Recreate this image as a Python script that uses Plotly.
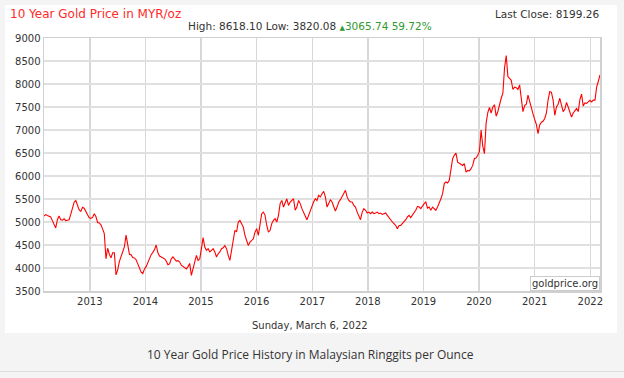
import pandas as pd
import plotly.graph_objects as go

# ---- data ----
start_date = "2012-03-06"
sample_every = "11D"

prices_2012_2014 = [
    5130, 5160, 5140, 5120, 5110, 5030, 4930, 4870, 5050, 5130,
    5050, 5040, 5070, 5030, 5040, 5050, 5170, 5320, 5430, 5465,
    5340, 5260, 5230, 5320, 5300, 5210, 5160, 5090, 5080, 5100,
    5180, 5120, 4990, 4980, 4940, 4850, 4750, 4200, 4430, 4300,
    4220, 4330, 4330, 3850, 3960, 4140, 4250, 4320, 4460, 4715,
    4530, 4300, 4290, 4230, 4220, 4180, 4090, 4000, 3910, 3880,
    3980, 4030, 4130, 4220, 4290, 4340, 4400, 4500, 4330, 4260,
    4240, 4230, 4200, 4150, 4070, 4090, 4200, 4240, 4200, 4150,
    4160, 4130, 4060, 4030, 4000, 3980, 4030, 4100,
]
prices_2014_2017 = [
    3840, 3985, 4165, 4275, 4165, 4200, 4420, 4660, 4455, 4385,
    4420, 4350, 4385, 4420, 4350, 4240, 4310, 4350, 4420, 4440,
    4490, 4420, 4275, 4165, 4385, 4600, 4820, 4785, 5000, 5035,
    4965, 4890, 4710, 4600, 4490, 4565, 4600, 4635, 4780, 4855,
    4710, 4965, 5180, 5215, 5145, 4930, 4780, 4820, 4965, 5035,
    5070, 5000, 5145, 5400, 5470, 5325, 5435, 5505, 5360, 5435,
    5470, 5505, 5255, 5325, 5470, 5400, 5290, 5215, 5145, 5050,
    5145, 5255, 5325, 5435, 5505, 5470, 5580, 5545, 5615, 5665,
    5545, 5325, 5400,
]
prices_2017_2019 = [
    5485, 5435, 5325, 5240, 5325, 5435, 5485, 5545, 5615, 5690,
    5545, 5470, 5435, 5435, 5360, 5325, 5215, 5145, 5050, 5215,
    5290, 5255, 5195, 5215, 5180, 5215, 5180, 5195, 5215, 5180,
    5195, 5165, 5180, 5195, 5145, 5095, 5035, 5000, 4965, 4925,
    4855, 4925, 4925, 4965, 5000, 5050, 5110, 5145, 5095, 5145,
    5195, 5255, 5340, 5325, 5290, 5360, 5400, 5435, 5300, 5325,
    5255, 5325, 5290, 5255, 5325, 5400, 5505, 5615, 5835, 5870,
    5850, 5905, 6195, 6375, 6450, 6500, 6300, 6280, 6250, 6230,
    6270, 6085, 6120,
]
prices_2019_2022 = [
    6110, 6160, 6230, 6380, 6390, 6450, 6530, 7000, 6650, 6485,
    7150, 7380, 7490, 7370, 7500, 7550, 7300, 7400, 7570, 7690,
    7800, 8350, 8618, 8160, 8120, 8080, 7880, 7930, 7920, 7880,
    7980, 7700, 7400, 7530, 7560, 7760, 7600, 7480, 7350, 7230,
    7120, 6920, 7110, 7170, 7190, 7250, 7370, 7650, 7835, 7820,
    7650, 7320, 7500, 7560, 7690, 7540, 7400, 7450, 7600, 7500,
    7380, 7280, 7370, 7430, 7465, 7400, 7660, 7780, 7520, 7590,
    7580, 7610, 7645, 7610, 7650, 7650, 7930, 8060, 8199,
]

prices = prices_2012_2014 + prices_2014_2017 + prices_2017_2019 + prices_2019_2022
dates = pd.date_range(start_date, periods=len(prices), freq=sample_every)

title_text = "10 Year Gold Price in MYR/oz"
last_close = "Last Close: 8199.26"
high_low = "High: 8618.10 Low: 3820.08 "
change_text = "3065.74 59.72%"
date_text = "Sunday, March 6, 2022"
source_text = "goldprice.org"
caption_text = "10 Year Gold Price History in Malaysian Ringgits per Ounce"

# ---- figure ----
W, H = 624, 378
L, R, T, B = 44, 24, 38, 87
pw, ph = W - L - R, H - T - B


def px(x):
    return (x - L) / pw


def py(y):
    return (H - B - y) / ph


FONT = "DejaVu Sans"

fig = go.Figure()
fig.add_trace(go.Scatter(
    x=dates, y=prices, mode="lines",
    line=dict(color="#ff0000", width=1.1),
    hoverinfo="skip", showlegend=False,
))

fig.update_layout(
    width=W, height=H,
    margin=dict(l=L, r=R, t=T, b=B, pad=0),
    paper_bgcolor="#f4f4f4",
    plot_bgcolor="#ffffff",
    font=dict(family=FONT, size=10, color="#333333"),
    xaxis=dict(
        type="date",
        range=["2012-03-06", "2022-03-06"],
        tick0="2013-01-01", dtick="M12", tickformat="%Y",
        showgrid=True, gridcolor="#d8d8d8", gridwidth=1.5,
        showline=True, linecolor="#d0d0d0", linewidth=1.5, mirror=True,
        ticks="", zeroline=False, automargin=False,
        tickfont=dict(family=FONT, size=10, color="#333333"),
    ),
    yaxis=dict(
        range=[3500, 9000], dtick=500, tick0=3500,
        showgrid=True, gridcolor="#e0e0e0", gridwidth=2,
        showline=True, linecolor="#d0d0d0", linewidth=1.5, mirror=True,
        ticks="", zeroline=False, automargin=False,
        tickfont=dict(family=FONT, size=10, color="#333333"),
    ),
    shapes=[
        dict(type="rect", xref="paper", yref="paper",
             x0=px(5), x1=px(617), y0=py(333), y1=py(5),
             fillcolor="#ffffff", line=dict(width=0), layer="below"),
        dict(type="line", xref="paper", yref="paper",
             x0=px(0), x1=px(624), y0=py(371.5), y1=py(371.5),
             line=dict(color="#dddddd", width=1)),
    ],
    annotations=[
        dict(text=title_text, xref="paper", yref="paper",
             x=px(8), y=py(14), xanchor="left", yanchor="middle",
             showarrow=False, font=dict(family=FONT, size=12, color="#ff2a2a")),
        dict(text=last_close, xref="paper", yref="paper",
             x=px(601), y=py(14), xanchor="right", yanchor="middle",
             showarrow=False, font=dict(family=FONT, size=10.5, color="#333333")),
        dict(text=high_low + "<span style='color:#2f9a2f;font-size:7px'>▲</span>"
             + "<span style='color:#2f9a2f'>" + change_text + "</span>",
             xref="paper", yref="paper",
             x=px(310), y=py(26), xanchor="center", yanchor="middle",
             showarrow=False, font=dict(family=FONT, size=10.5, color="#333333")),
        dict(text=date_text, xref="paper", yref="paper",
             x=px(310), y=py(325), xanchor="center", yanchor="middle",
             showarrow=False, font=dict(family=FONT, size=10, color="#333333")),
        dict(text=source_text, xref="paper", yref="paper",
             x=1, y=0, xanchor="right", yanchor="bottom",
             showarrow=False, bgcolor="#ffffff", bordercolor="#cccccc",
             borderwidth=1, borderpad=1,
             font=dict(family=FONT, size=10, color="#333333")),
        dict(text=caption_text, xref="paper", yref="paper",
             x=px(310), y=py(355), xanchor="center", yanchor="middle",
             showarrow=False, font=dict(family="Open Sans", size=12, color="#333333")),
    ],
)

fig.write_html(
    "out.html",
    config={"displayModeBar": False, "staticPlot": True},
    post_script="document.body.style.margin='0';document.body.style.padding='0';",
)
